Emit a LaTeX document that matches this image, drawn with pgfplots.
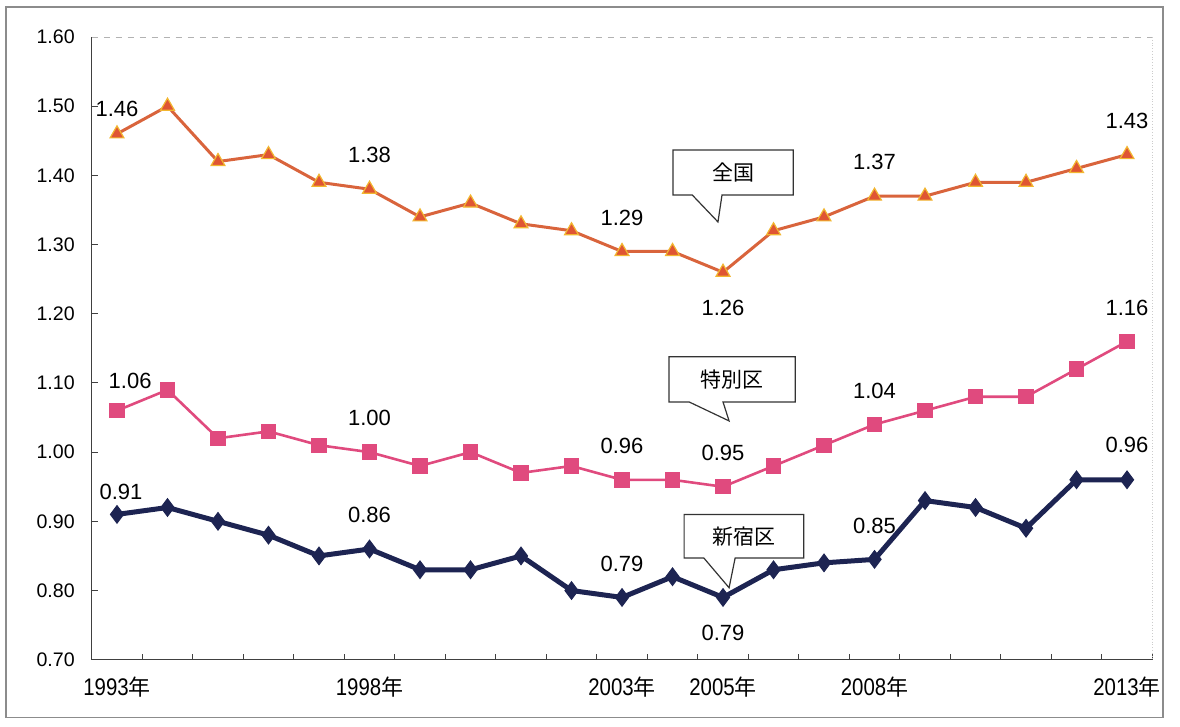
\documentclass[border=0pt]{standalone}
\usepackage{pgfplots}
\pgfplotsset{compat=1.18}
\usepackage{pgfplotstable}
\usepackage{fontspec}
\setmainfont{Liberation Sans}
\newfontfamily\cjk{Noto Sans CJK JP}
\newfontfamily\narrow[FakeStretch=0.85]{Liberation Sans}

\definecolor{zenkoku}{HTML}{D9643C}
\definecolor{zenkokuedge}{HTML}{F2B630}
\definecolor{tokubetsu}{HTML}{E04A7E}
\definecolor{shinjuku}{HTML}{1D2452}

\pgfplotstableread{
year zenkoku tokubetsu shinjuku
1993 1.46 1.06 0.91
1994 1.50 1.09 0.92
1995 1.42 1.02 0.90
1996 1.43 1.03 0.88
1997 1.39 1.01 0.85
1998 1.38 1.00 0.86
1999 1.34 0.98 0.83
2000 1.36 1.00 0.83
2001 1.33 0.97 0.85
2002 1.32 0.98 0.80
2003 1.29 0.96 0.79
2004 1.29 0.96 0.82
2005 1.26 0.95 0.79
2006 1.32 0.98 0.83
2007 1.34 1.01 0.84
2008 1.37 1.04 0.845
2009 1.37 1.06 0.93
2010 1.39 1.08 0.92
2011 1.39 1.08 0.89
2012 1.41 1.12 0.96
2013 1.43 1.16 0.96
}\ratedata

\newcommand{\yr}[1]{{\narrow #1}{\cjk\fontsize{11}{12}\selectfont 年}}

\begin{document}
\begin{tikzpicture}
\begin{axis}[
  scale only axis, width=530.5pt, height=311.5pt,
  xmin=1992.5, xmax=2013.5, ymin=0.7, ymax=1.6,
  axis x line*=bottom, axis y line*=left,
  axis line style={black!75, line width=0.6pt},
  clip=false,
  tick align=inside,
  ytick={0.7,0.8,0.9,1.0,1.1,1.2,1.3,1.4,1.5,1.6},
  /pgf/number format/fixed,
  /pgf/number format/fixed zerofill,
  /pgf/number format/precision=2,
  /pgf/number format/assume math mode=true,
  yticklabel style={font=\fontsize{9.8}{11}\selectfont, xshift=-5pt},
  major tick length=3pt, minor tick length=3pt,
  tick style={black!75, line width=0.5pt},
  xtick={1993,1998,2003,2005,2008,2013},
  xticklabels={\yr{1993},\yr{1998},\yr{2003},\yr{2005},\yr{2008},\yr{2013}},
  major x tick style={draw=none},
  minor xtick={1992.5,1993.5,...,2013.5},
  xticklabel style={font=\fontsize{12}{13}\selectfont, yshift=-5pt},
]
% page extent and outer frame
\path (axis cs:1990.683,1.6535) rectangle (axis cs:2014.049,0.6029);
\draw[black!45, line width=0.6pt] (axis cs:1990.802,1.6434) rectangle (axis cs:2013.713,0.6159);
\draw[black!30, dashed, line width=0.4pt] (rel axis cs:0,1) -- (rel axis cs:1,1);
\draw[black!20, densely dotted, line width=0.4pt] (rel axis cs:1,1) -- (rel axis cs:1,0);

\addplot[zenkoku, line width=1.5pt, mark=triangle*, mark size=4pt,
  mark options={fill=zenkoku!85!red, draw=zenkokuedge, line width=0.6pt}]
  table[x=year, y=zenkoku] {\ratedata};
\addplot[tokubetsu, line width=1.3pt, mark=square*, mark size=3.2pt,
  mark options={fill=tokubetsu, draw=tokubetsu}]
  table[x=year, y=tokubetsu] {\ratedata};
\addplot[shinjuku, line width=2.5pt, mark=diamond*, mark size=4.4pt,
  mark options={fill=shinjuku, draw=shinjuku, line width=0.5pt}]
  table[x=year, y=shinjuku] {\ratedata};

% value labels
\begin{scope}[every node/.style={font=\fontsize{11}{13}\selectfont}]
\node at (axis cs:1993,1.496) {1.46};
\node at (axis cs:1998,1.429) {1.38};
\node at (axis cs:2003,1.339) {1.29};
\node at (axis cs:2005,1.209) {1.26};
\node at (axis cs:2008,1.419) {1.37};
\node at (axis cs:2013,1.479) {1.43};
\node at (axis cs:1993.26,1.103) {1.06};
\node at (axis cs:1998,1.049) {1.00};
\node at (axis cs:2003,1.009) {0.96};
\node at (axis cs:2005,0.999) {0.95};
\node at (axis cs:2008,1.089) {1.04};
\node at (axis cs:2013,1.209) {1.16};
\node at (axis cs:2013,1.011) {0.96};
\node at (axis cs:1993.08,0.943) {0.91};
\node at (axis cs:1998,0.909) {0.86};
\node at (axis cs:2003,0.839) {0.79};
\node at (axis cs:2005,0.738) {0.79};
\node at (axis cs:2008,0.894) {0.85};
\end{scope}

% callouts
\begin{scope}[every node/.style={font=\cjk\fontsize{10.5}{12}\selectfont}]
\draw[black!80, fill=white, line width=0.6pt]
  (axis cs:2004.01,1.4367) -- (axis cs:2006.39,1.4367) -- (axis cs:2006.39,1.3717)
  -- (axis cs:2004.98,1.3717) -- (axis cs:2004.90,1.3327) -- (axis cs:2004.39,1.3717)
  -- (axis cs:2004.01,1.3717) -- cycle;
\node at (axis cs:2005.20,1.4042) {全国};
\draw[black!80, fill=white, line width=0.6pt]
  (axis cs:2003.93,1.1380) -- (axis cs:2006.43,1.1380) -- (axis cs:2006.43,1.0725)
  -- (axis cs:2005.00,1.0725) -- (axis cs:2005.12,1.0451) -- (axis cs:2004.33,1.0725)
  -- (axis cs:2003.93,1.0725) -- cycle;
\node at (axis cs:2005.18,1.1052) {特別区};
\draw[black!80, fill=white, line width=0.6pt]
  (axis cs:2004.23,0.9100) -- (axis cs:2006.60,0.9100) -- (axis cs:2006.60,0.8470)
  -- (axis cs:2005.24,0.8470) -- (axis cs:2005.12,0.8040) -- (axis cs:2004.62,0.8470)
  -- (axis cs:2004.23,0.8470) -- cycle;
\node at (axis cs:2005.42,0.8785) {新宿区};
\end{scope}
\end{axis}
\end{tikzpicture}
\end{document}
